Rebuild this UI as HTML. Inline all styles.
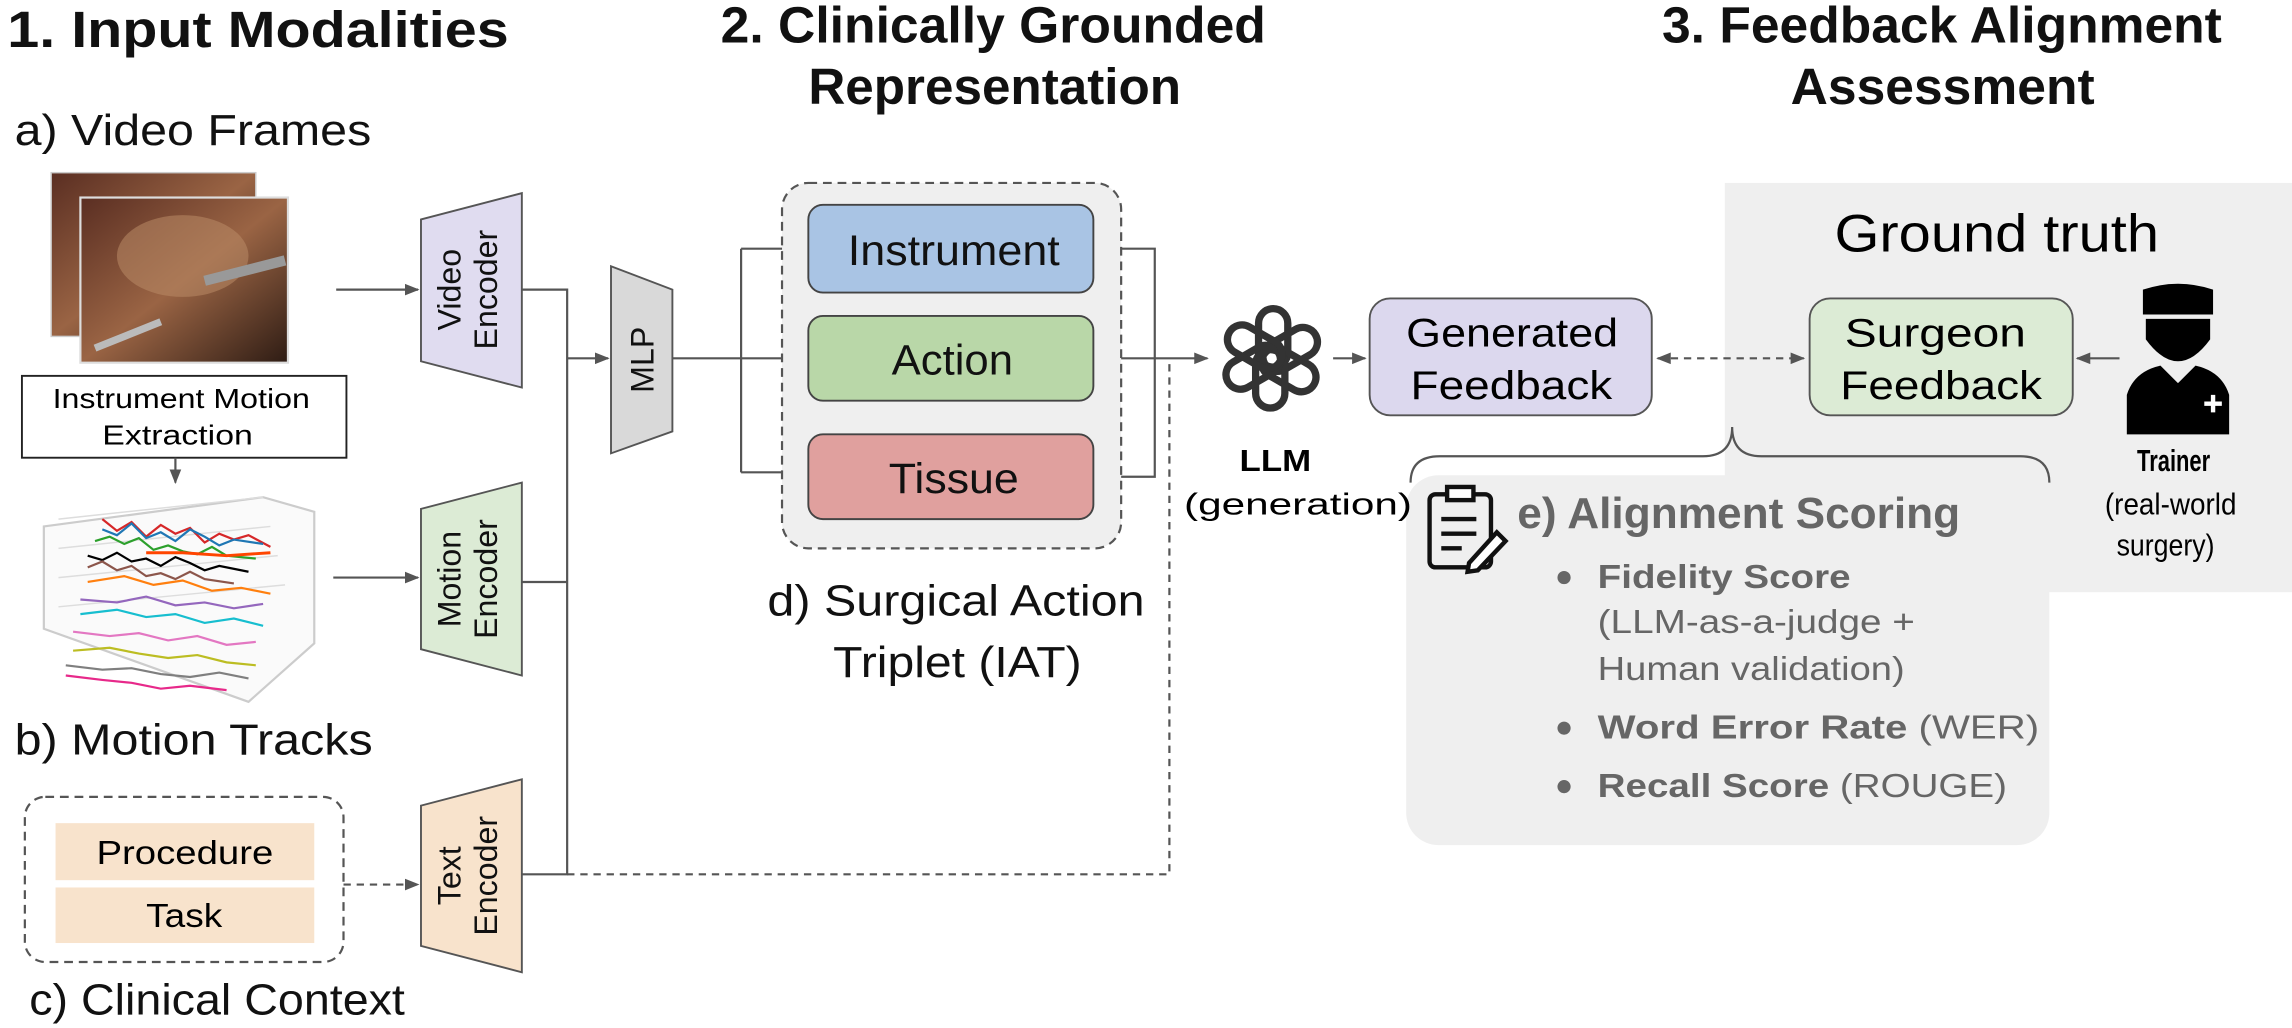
<!DOCTYPE html>
<html><head><meta charset="utf-8"><style>
html,body{margin:0;padding:0;background:#fff}
svg{display:block}
text{font-family:"Liberation Sans",Arial,sans-serif}
</style></head><body>
<svg width="2292" height="1028" viewBox="0 0 1568 703" xmlns="http://www.w3.org/2000/svg">
<defs>
<marker id="ar" markerWidth="10" markerHeight="10" refX="9" refY="5" orient="auto" markerUnits="userSpaceOnUse"><path d="M0,1 L10,5 L0,9 z" fill="#555"/></marker>
<marker id="arl" markerWidth="10" markerHeight="10" refX="1" refY="5" orient="auto" markerUnits="userSpaceOnUse"><path d="M10,1 L0,5 L10,9 z" fill="#555"/></marker>
<linearGradient id="vid" x1="0" y1="0" x2="1" y2="1"><stop offset="0" stop-color="#5a2e22"/><stop offset="0.5" stop-color="#9a6444"/><stop offset="1" stop-color="#2e1c14"/></linearGradient>
</defs>

<rect x="1180" y="125" width="388" height="280" fill="#efefef"/>
<rect x="962" y="325" width="440" height="253" rx="22" fill="#efefef"/>

<g font-weight="bold" font-size="35" fill="#111" lengthAdjust="spacingAndGlyphs">
<text x="5" y="32" textLength="343" lengthAdjust="spacingAndGlyphs">1. Input Modalities</text>
<text x="493" y="29" textLength="373" lengthAdjust="spacingAndGlyphs">2. Clinically Grounded</text>
<text x="553" y="71" textLength="255" lengthAdjust="spacingAndGlyphs">Representation</text>
<text x="1137" y="29" textLength="383" lengthAdjust="spacingAndGlyphs">3. Feedback Alignment</text>
<text x="1225" y="71" textLength="208" lengthAdjust="spacingAndGlyphs">Assessment</text>
</g>
<g font-size="30" fill="#111">
<text x="10" y="99" textLength="244" lengthAdjust="spacingAndGlyphs">a) Video Frames</text>
<text x="10" y="516" textLength="245" lengthAdjust="spacingAndGlyphs">b) Motion Tracks</text>
<text x="20" y="694" textLength="257" lengthAdjust="spacingAndGlyphs">c) Clinical Context</text>
<text x="525" y="421" textLength="258" lengthAdjust="spacingAndGlyphs">d) Surgical Action</text>
<text x="570" y="463" textLength="170" lengthAdjust="spacingAndGlyphs">Triplet (IAT)</text>
</g>

<!-- video frames -->
<rect x="35" y="118" width="140" height="112" fill="url(#vid)" stroke="#ccc"/>
<rect x="55" y="135" width="142" height="113" fill="url(#vid)" stroke="#ddd" stroke-width="1.5"/>
<ellipse cx="125" cy="175" rx="45" ry="28" fill="#b98a66" opacity="0.55"/>
<path d="M140,192 L195,178" stroke="#999" stroke-width="7"/>
<path d="M65,238 L110,220" stroke="#bbb" stroke-width="5"/>

<rect x="15" y="257" width="222" height="56" fill="#fff" stroke="#222" stroke-width="1.3"/>
<text x="36" y="279" font-size="19" textLength="176" lengthAdjust="spacingAndGlyphs">Instrument Motion</text>
<text x="70" y="304" font-size="19" textLength="103" lengthAdjust="spacingAndGlyphs">Extraction</text>
<line x1="120" y1="313" x2="120" y2="330" stroke="#555" stroke-width="1.5" marker-end="url(#ar)"/>

<!-- motion plot -->
<g fill="none" stroke-width="1.5">
<path d="M30,360 L180,340 L215,350 L215,440 L170,480 L30,430 Z" stroke="#ccc" fill="#fafafa"/>
<path d="M40,355 L180,340 M40,375 L185,360 M40,395 L190,380 M40,415 L195,400" stroke="#ddd" stroke-width="1"/>
<path d="M70,355 l10,8 l10,-6 l10,10 l10,-8 l10,6 l10,-4 l10,10 l10,-6 l10,4 l10,-3 l15,8" stroke="#d62728"/>
<path d="M70,362 l10,4 l10,-8 l10,10 l10,-4 l10,6 l10,-8 l10,5 l10,6 l10,-4 l20,3" stroke="#1f77b4"/>
<path d="M65,370 l10,-3 l10,5 l10,-4 l10,8 l10,-3 l10,4 l10,2 l10,-5 l10,6 l20,2" stroke="#2ca02c"/>
<path d="M60,380 l10,3 l10,-5 l10,6 l10,-2 l10,5 l10,-6 l10,4 l10,5 l10,-3 l20,4" stroke="#000"/>
<path d="M60,388 l10,-4 l10,6 l10,-3 l10,7 l10,-2 l10,4 l10,-5 l10,5 l20,3" stroke="#8c564b"/>
<path d="M60,398 l25,-4 l20,6 l20,-3 l20,7 l20,-2 l20,4" stroke="#ff7f0e"/>
<path d="M55,410 l25,2 l20,-4 l20,6 l20,-2 l20,4 l20,-3" stroke="#9467bd"/>
<path d="M55,420 l25,-3 l20,5 l20,-2 l20,6 l20,-3 l20,5" stroke="#17becf"/>
<path d="M50,432 l25,3 l20,-2 l20,5 l20,-3 l20,6 l20,-2" stroke="#e377c2"/>
<path d="M50,445 l25,-2 l20,4 l20,3 l20,-2 l20,5 l20,2" stroke="#bcbd22"/>
<path d="M45,455 l25,3 l20,-1 l20,4 l20,2 l20,-3 l20,4" stroke="#7f7f7f"/>
<path d="M45,462 l25,3 l20,2 l20,4 l20,-2 l25,3" stroke="#e7298a"/>
<path d="M100,378 l25,0 l30,2 l30,-2" stroke="#ff4500" stroke-width="2"/>
</g>

<rect x="17" y="545" width="218" height="113" rx="14" fill="none" stroke="#555" stroke-width="1.5" stroke-dasharray="6,4"/>
<rect x="38" y="563" width="177" height="39" fill="#f8e3cc"/>
<rect x="38" y="607" width="177" height="38" fill="#f8e3cc"/>
<text x="66" y="591" font-size="23" textLength="121" lengthAdjust="spacingAndGlyphs">Procedure</text>
<text x="100" y="634" font-size="23" textLength="52" lengthAdjust="spacingAndGlyphs">Task</text>

<g stroke="#555" stroke-width="1.5" fill="none">
<line x1="230" y1="198" x2="286" y2="198" marker-end="url(#ar)"/>
<line x1="228" y1="395" x2="286" y2="395" marker-end="url(#ar)"/>
<line x1="235" y1="605" x2="286" y2="605" stroke-dasharray="5,4" marker-end="url(#ar)"/>
</g>

<g stroke="#555" stroke-width="1.3">
<path d="M288,150 L357,132 L357,265 L288,247 Z" fill="#e0dcf0"/>
<path d="M288,348 L357,330 L357,462 L288,444 Z" fill="#dcebd5"/>
<path d="M288,551 L357,533 L357,665 L288,647 Z" fill="#f8e3cc"/>
<path d="M418,182 L460,198 L460,295 L418,310 Z" fill="#d9d9d9"/>
</g>
<g font-size="22" text-anchor="middle" fill="#111">
<text transform="translate(315,198) rotate(-90)">Video</text>
<text transform="translate(340,198) rotate(-90)">Encoder</text>
<text transform="translate(315,396) rotate(-90)">Motion</text>
<text transform="translate(340,396) rotate(-90)">Encoder</text>
<text transform="translate(315,599) rotate(-90)">Text</text>
<text transform="translate(340,599) rotate(-90)">Encoder</text>
<text transform="translate(447,246) rotate(-90)">MLP</text>
</g>

<g stroke="#555" stroke-width="1.5" fill="none">
<path d="M357,198 L388,198 L388,598 L357,598"/>
<line x1="357" y1="398" x2="388" y2="398"/>
<line x1="388" y1="245" x2="416" y2="245" marker-end="url(#ar)"/>
<line x1="460" y1="245" x2="507" y2="245"/>
<path d="M507,170 L507,323"/>
<line x1="507" y1="170" x2="551" y2="170" marker-end="url(#ar)"/>
<line x1="507" y1="245" x2="551" y2="245" marker-end="url(#ar)"/>
<line x1="507" y1="323" x2="551" y2="323" marker-end="url(#ar)"/>
<path d="M748,170 L790,170 L790,326 L748,326"/>
<line x1="748" y1="245" x2="826" y2="245" marker-end="url(#ar)"/>
<path d="M388,598 L800,598 L800,245" stroke-dasharray="5,4"/>
<line x1="912" y1="245" x2="934" y2="245" marker-end="url(#ar)"/>
<line x1="1134" y1="245" x2="1234" y2="245" stroke-dasharray="5,4" marker-start="url(#arl)" marker-end="url(#ar)"/>
<line x1="1450" y1="245" x2="1421" y2="245" marker-end="url(#ar)"/>
</g>

<rect x="535" y="125" width="232" height="250" rx="18" fill="#efefef" stroke="#555" stroke-width="1.5" stroke-dasharray="6,4"/>
<g stroke="#444" stroke-width="1.3">
<rect x="553" y="140" width="195" height="60" rx="10" fill="#a9c4e4"/>
<rect x="553" y="216" width="195" height="58" rx="10" fill="#b9d7a8"/>
<rect x="553" y="297" width="195" height="58" rx="10" fill="#e0a09e"/>
</g>
<g font-size="29" fill="#111">
<text x="580" y="181" textLength="145" lengthAdjust="spacingAndGlyphs">Instrument</text>
<text x="610" y="256" textLength="83" lengthAdjust="spacingAndGlyphs">Action</text>
<text x="608" y="337" textLength="89" lengthAdjust="spacingAndGlyphs">Tissue</text>
</g>

<!-- LLM logo -->
<g transform="translate(870,245)" fill="none" stroke="#333" stroke-width="5">
<g id="pet"><rect x="-9" y="-34" width="20" height="40" rx="10"/></g>
<use href="#pet" transform="rotate(60)"/>
<use href="#pet" transform="rotate(120)"/>
<use href="#pet" transform="rotate(180)"/>
<use href="#pet" transform="rotate(240)"/>
<use href="#pet" transform="rotate(300)"/>
</g>
<text x="848" y="322" font-size="21" font-weight="bold" textLength="49" lengthAdjust="spacingAndGlyphs">LLM</text>
<text x="810" y="352" font-size="21" textLength="156" lengthAdjust="spacingAndGlyphs">(generation)</text>

<rect x="937" y="204" width="193" height="80" rx="14" fill="#dcd8ee" stroke="#555" stroke-width="1.3"/>
<text x="962" y="237" font-size="27" textLength="145" lengthAdjust="spacingAndGlyphs">Generated</text>
<text x="965" y="273" font-size="27" textLength="138" lengthAdjust="spacingAndGlyphs">Feedback</text>
<rect x="1238" y="204" width="180" height="80" rx="14" fill="#dcebd5" stroke="#555" stroke-width="1.3"/>
<text x="1262" y="237" font-size="27" textLength="124" lengthAdjust="spacingAndGlyphs">Surgeon</text>
<text x="1259" y="273" font-size="27" textLength="138" lengthAdjust="spacingAndGlyphs">Feedback</text>
<text x="1255" y="172" font-size="36" textLength="222" lengthAdjust="spacingAndGlyphs">Ground truth</text>

<g fill="#000">
<path d="M1466,198 Q1490,190 1514,198 L1514,215 L1466,215 Z"/>
<path d="M1468,218 L1512,218 L1512,232 Q1490,262 1468,232 Z"/>
<path d="M1455,297 L1455,270 Q1460,254 1478,250 L1490,262 L1502,250 Q1520,254 1525,270 L1525,297 Z"/>
</g>
<path d="M1508,276 h12 M1514,270 v12" stroke="#fff" stroke-width="3"/>
<text x="1462" y="322" font-size="21" font-weight="bold" textLength="50" lengthAdjust="spacingAndGlyphs">Trainer</text>
<text x="1440" y="352" font-size="21" textLength="90" lengthAdjust="spacingAndGlyphs">(real-world</text>
<text x="1448" y="380" font-size="21" textLength="67" lengthAdjust="spacingAndGlyphs">surgery)</text>

<path d="M965,330 Q965,312 985,312 L1165,312 Q1185,312 1185,292 Q1185,312 1205,312 L1382,312 Q1402,312 1402,330" fill="none" stroke="#555" stroke-width="1.5"/>

<g fill="none" stroke="#111" stroke-width="3">
<rect x="978" y="338" width="42" height="50" rx="4"/>
<rect x="990" y="333" width="18" height="9" fill="#fff"/>
<line x1="986" y1="355" x2="1010" y2="355"/>
<line x1="986" y1="365" x2="1010" y2="365"/>
<line x1="986" y1="375" x2="1000" y2="375"/>
<path d="M1005,385 L1024,364 L1030,370 L1011,390 L1004,391 Z" fill="#fff"/>
</g>

<text x="1038" y="361" font-size="30" font-weight="bold" fill="#666" textLength="303" lengthAdjust="spacingAndGlyphs">e) Alignment Scoring</text>
<g font-size="23" fill="#666">
<circle cx="1070" cy="395" r="4.5"/>
<text x="1093" y="402" font-weight="bold" textLength="173" lengthAdjust="spacingAndGlyphs">Fidelity Score</text>
<text x="1093" y="433" textLength="217" lengthAdjust="spacingAndGlyphs">(LLM-as-a-judge +</text>
<text x="1093" y="465" textLength="210" lengthAdjust="spacingAndGlyphs">Human validation)</text>
<circle cx="1070" cy="498" r="4.5"/>
<text x="1093" y="505" textLength="302" lengthAdjust="spacingAndGlyphs"><tspan font-weight="bold">Word Error Rate</tspan> (WER)</text>
<circle cx="1070" cy="538" r="4.5"/>
<text x="1093" y="545" textLength="280" lengthAdjust="spacingAndGlyphs"><tspan font-weight="bold">Recall Score</tspan> (ROUGE)</text>
</g>
</svg>
</body></html>
